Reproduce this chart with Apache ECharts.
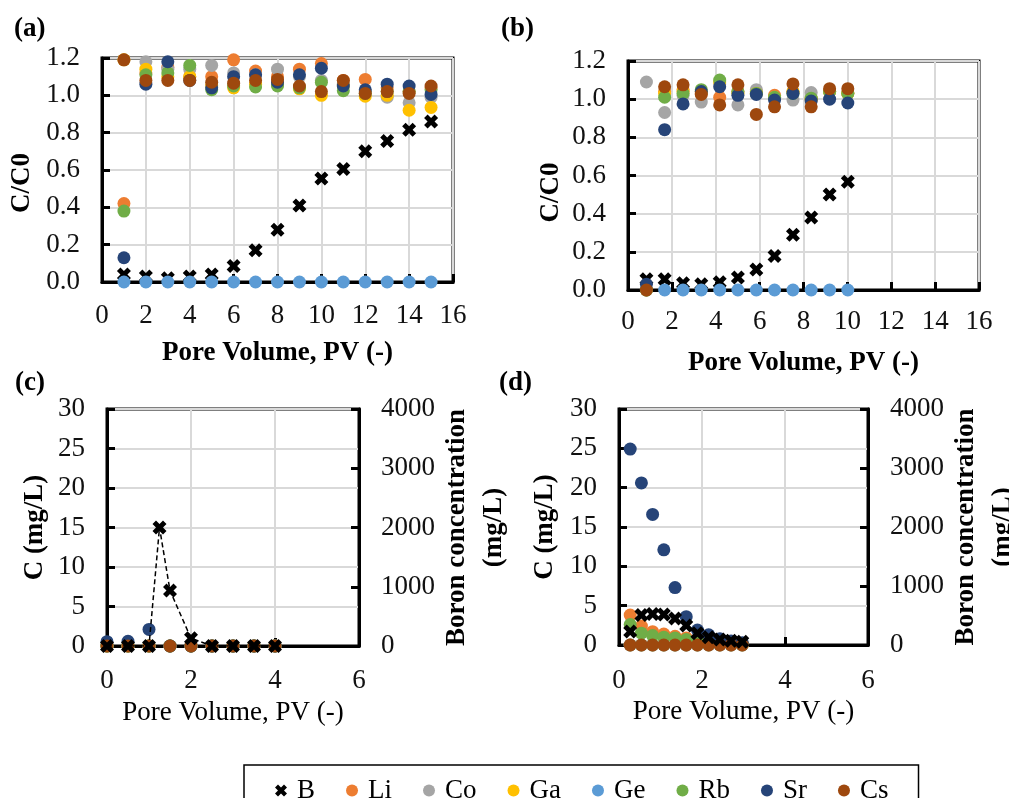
<!DOCTYPE html>
<html>
<head>
<meta charset="utf-8">
<title>C/C0 and concentration vs pore volume</title>
<script src="https://cdn.jsdelivr.net/npm/echarts@6/dist/echarts.min.js"></script>
<style>
  html, body { margin: 0; padding: 0; background: #fff; }
  #main { width: 1009px; height: 798px; }
</style>
</head>
<body>
<div id="main"></div>
<script>
// ---- data ----
// (a)
var pvA = [1, 2, 3, 4, 5, 6, 7, 8, 9, 10, 11, 12, 13, 14, 15];
var bA  = [0.04, 0.03, 0.02, 0.03, 0.04, 0.086, 0.17, 0.28, 0.41, 0.555, 0.605, 0.70, 0.756, 0.815, 0.86];
var liA = [0.42, 1.12, 1.15, 1.10, 1.10, 1.19, 1.13, 1.10, 1.14, 1.17, 1.08, 1.085, 1.04, 1.02, 1.04];
var coA = [1.19, 1.18, 1.14, 1.14, 1.16, 1.12, 1.11, 1.14, 1.10, 1.08, 1.06, 1.02, 0.99, 0.96, 0.99];
var gaA = [1.19, 1.14, 1.10, 1.10, 1.05, 1.04, 1.06, 1.06, 1.035, 1.00, 1.05, 0.995, 1.00, 0.92, 0.935];
var geA = [0, 0, 0, 0, 0, 0, 0, 0, 0, 0, 0, 0, 0, 0, 0];
var rbA = [0.38, 1.11, 1.12, 1.16, 1.03, 1.05, 1.045, 1.05, 1.04, 1.07, 1.025, 1.01, 1.02, 1.02, 1.03];
var srA = [0.13, 1.06, 1.18, 1.08, 1.04, 1.10, 1.11, 1.07, 1.11, 1.145, 1.05, 1.03, 1.06, 1.05, 1.005];
var csA = [1.19, 1.08, 1.08, 1.08, 1.07, 1.065, 1.08, 1.085, 1.05, 1.02, 1.08, 1.01, 1.02, 1.01, 1.05];

// (b)
var pvB = [0.84, 1.67, 2.51, 3.34, 4.18, 5.01, 5.85, 6.68, 7.52, 8.35, 9.19, 10.02];
var bB  = [0.056, 0.056, 0.035, 0.03, 0.04, 0.065, 0.108, 0.178, 0.29, 0.38, 0.50, 0.567];
var liB = [0, 1.04, 1.05, 1.03, 1.01, 1.04, 1.04, 1.02, 1.04, 1.00, 1.04, 1.03];
var coB = [1.09, 0.93, 1.02, 0.985, 1.08, 0.97, 1.05, 1.01, 0.995, 1.035, 1.04, 1.03];
var gaB = [0, 1.03, 1.04, 1.04, 1.09, 1.03, 1.03, 1.01, 1.04, 1.00, 1.04, 1.03];
var geB = [0, 0, 0, 0, 0, 0, 0, 0, 0, 0, 0, 0];
var rbB = [0, 1.01, 1.03, 1.05, 1.10, 1.04, 1.03, 1.01, 1.03, 1.005, 1.04, 1.03];
var srB = [0.03, 0.84, 0.975, 1.04, 1.065, 1.02, 1.025, 0.995, 1.03, 0.99, 1.00, 0.98];
var csB = [0, 1.065, 1.075, 1.025, 0.97, 1.075, 0.92, 0.96, 1.08, 0.96, 1.055, 1.055];

// (c)  metals in mg/L (left axis), boron in mg/L (right axis)
var pvC  = [0, 0.5, 1, 1.5, 2, 2.5, 3, 3.5, 4];
var liC  = [0, 0, 0, 0, 0, 0, 0, 0, 0];
var coC  = [0, 0, 0, 0, 0, 0, 0, 0, 0];
var gaC  = [0, 0, 0, 0, 0, 0, 0, 0, 0];
var geC  = [0, 0, 0, 0, 0, 0, 0, 0, 0];
var rbC  = [0, 0, 0, 0, 0, 0, 0, 0, 0];
var srC  = [0.55, 0.6, 2.1, 0, 0, 0, 0, 0, 0];
var csC  = [0, 0, 0, 0, 0, 0, 0, 0, 0];
var pvBC = [0, 0.5, 1, 1.25, 1.5, 2, 2.5, 3, 3.5, 4];
var bC   = [0, 0, 0, 2000, 935, 130, 0, 0, 0, 0];

// (d)
var pvD = [0.27, 0.54, 0.81, 1.08, 1.35, 1.62, 1.89, 2.16, 2.43, 2.70, 2.97];
var bD  = [230, 510, 525, 515, 450, 330, 200, 130, 95, 70, 55];
var liD = [3.8, 2.4, 1.7, 1.4, 1.1, 0.9, 0.6, 0.4, 0.3, 0.2, 0.1];
var coD = [0, 0, 0, 0, 0, 0, 0, 0, 0, 0, 0];
var gaD = [0, 0, 0, 0, 0, 0, 0, 0, 0, 0, 0];
var geD = [0, 0, 0, 0, 0, 0, 0, 0, 0, 0, 0];
var rbD = [2.6, 1.5, 1.2, 1.0, 0.9, 0.7, 0.5, 0.35, 0.25, 0.15, 0.1];
var srD = [24.9, 20.6, 16.6, 12.1, 7.3, 3.6, 1.9, 1.3, 0.8, 0.5, 0.3];
var csD = [0, 0, 0, 0, 0, 0, 0, 0, 0, 0, 0];

var elements = ['B', 'Li', 'Co', 'Ga', 'Ge', 'Rb', 'Sr', 'Cs'];
var colors = {
  B: '#000000', Li: '#ED7D31', Co: '#A5A5A5', Ga: '#FFC000',
  Ge: '#5B9BD5', Rb: '#70AD47', Sr: '#264478', Cs: '#9E480E'
};

// ---- helpers ----
var FONT = "'Liberation Serif', 'Times New Roman', serif";
// bold "x" marker
var crossPath = 'path://M0,2.5 L2.5,0 L5,2.5 L7.5,0 L10,2.5 L7.5,5 L10,7.5 L7.5,10 L5,7.5 L2.5,10 L0,7.5 L2.5,5 Z';

function pairs(xs, ys) {
  return xs.map(function (x, i) { return [x, ys[i]]; });
}

function dots(name, xi, yi, xs, ys) {
  return {
    name: name, type: 'scatter', xAxisIndex: xi, yAxisIndex: yi,
    data: pairs(xs, ys),
    symbol: 'circle', symbolSize: 13,
    itemStyle: { color: colors[name], opacity: 1 }
  };
}

function crosses(name, xi, yi, xs, ys) {
  return {
    name: name, type: 'scatter', xAxisIndex: xi, yAxisIndex: yi,
    data: pairs(xs, ys),
    symbol: crossPath, symbolSize: 14,
    itemStyle: { color: '#000', opacity: 1 }
  };
}

var axisLine = { lineStyle: { color: '#000', width: 3 } };
var axisTick = { inside: true, length: 8, lineStyle: { color: '#000', width: 3 } };
var splitLine = { lineStyle: { color: '#D9D9D9', width: 2 } };

function xAxis(gi, max, bold, gap, margin) {
  return {
    gridIndex: gi, type: 'value', min: 0, max: max, interval: 2,
    name: 'Pore Volume, PV (-)', nameLocation: 'middle', nameGap: gap,
    nameTextStyle: { fontFamily: FONT, fontSize: 27, color: '#000', fontWeight: bold ? 'bold' : 'normal' },
    axisLine: axisLine, axisTick: axisTick, splitLine: splitLine,
    axisLabel: { fontFamily: FONT, fontSize: 27, color: '#111', margin: margin }
  };
}

function yAxis(gi, max, interval, name, gap, pad, fmt) {
  return {
    gridIndex: gi, type: 'value', min: 0, max: max, interval: interval,
    name: name, nameLocation: 'middle', nameGap: gap,
    nameTextStyle: { fontFamily: FONT, fontSize: 27, color: '#000', fontWeight: 'bold', padding: pad },
    axisLine: axisLine, axisTick: axisTick, splitLine: splitLine,
    axisLabel: { fontFamily: FONT, fontSize: 27, color: '#111', margin: 22, formatter: fmt }
  };
}

function boronAxis(gi) {
  return {
    gridIndex: gi, type: 'value', position: 'right', min: 0, max: 4000, interval: 1000,
    name: 'Boron concentration\n(mg/L)', nameLocation: 'middle', nameGap: 70,
    nameTextStyle: { fontFamily: FONT, fontSize: 27, color: '#000', fontWeight: 'bold', lineHeight: 37 },
    axisLine: axisLine, axisTick: axisTick, splitLine: { show: false },
    axisLabel: { fontFamily: FONT, fontSize: 27, color: '#111', margin: 22, formatter: plain }
  };
}

function oneDecimal(v) { return v.toFixed(1); }
function plain(v) { return String(v); }

function gridBox(left, top, width, height) {
  return {
    left: left, top: top, width: width, height: height,
    show: true, borderColor: '#000', borderWidth: 3,
    outerBoundsMode: 'none'
  };
}

function panelLabel(text, left, top) {
  return {
    type: 'text', left: left, top: top,
    style: { text: text, fontFamily: FONT, fontSize: 27, fontWeight: 'bold', fill: '#000' }
  };
}

// ---- series ----
var series = [];
var sets = [
  { xi: 0, yi: 0, pv: pvA, v: { B: bA, Li: liA, Co: coA, Ga: gaA, Ge: geA, Rb: rbA, Sr: srA, Cs: csA } },
  { xi: 1, yi: 1, pv: pvB, v: { B: bB, Li: liB, Co: coB, Ga: gaB, Ge: geB, Rb: rbB, Sr: srB, Cs: csB } }
];
sets.forEach(function (s) {
  series.push(crosses('B', s.xi, s.yi, s.pv, s.v.B));
  elements.slice(1).forEach(function (el) {
    series.push(dots(el, s.xi, s.yi, s.pv, s.v[el]));
  });
});

var metalsC = { Li: liC, Co: coC, Ga: gaC, Ge: geC, Rb: rbC, Sr: srC, Cs: csC };
var metalsD = { Li: liD, Co: coD, Ga: gaD, Ge: geD, Rb: rbD, Sr: srD, Cs: csD };
elements.slice(1).forEach(function (el) {
  series.push(dots(el, 2, 2, pvC, metalsC[el]));
  series.push(dots(el, 3, 4, pvD, metalsD[el]));
});

// boron sits on the secondary axis and is drawn over the metals
series.push({
  name: 'B', type: 'line', xAxisIndex: 2, yAxisIndex: 3, z: 5,
  data: pairs(pvBC, bC),
  symbol: crossPath, symbolSize: 14, showSymbol: true,
  itemStyle: { color: '#000', opacity: 1 },
  lineStyle: { color: '#000', width: 1.5, type: [5, 3] }
});
var bDSeries = crosses('B', 3, 5, pvD, bD);
bDSeries.z = 5;
series.push(bDSeries);

// ---- chart ----
var chart = echarts.init(document.getElementById('main'), null, { renderer: 'canvas' });
chart.setOption({
  animation: false,
  backgroundColor: '#fff',
  grid: [
    gridBox(102, 58, 351, 224),
    gridBox(628, 61, 351, 229),
    gridBox(107, 409, 252, 237),
    gridBox(619, 409, 249, 236)
  ],
  xAxis: [
    xAxis(0, 16, true, 58, 20),
    xAxis(1, 16, true, 60, 18),
    xAxis(2, 6, false, 53, 21),
    xAxis(3, 6, false, 53, 22)
  ],
  yAxis: [
    yAxis(0, 1.2, 0.2, 'C/C0', 66, [0, 26, 0, 0], oneDecimal),
    yAxis(1, 1.2, 0.2, 'C/C0', 63, [0, 34, 0, 0], oneDecimal),
    yAxis(2, 30, 5, 'C (mg/L)', 58, 0),
    boronAxis(2),
    yAxis(3, 30, 5, 'C (mg/L)', 60, 0),
    boronAxis(3)
  ],
  legend: {
    left: 244, top: 765,
    orient: 'horizontal',
    borderColor: '#000', borderWidth: 1.5,
    padding: [12, 30, 12, 31],
    itemGap: 31, itemWidth: 12, itemHeight: 12,
    textStyle: { fontFamily: FONT, fontSize: 27, color: '#000', padding: [0, 0, 0, 5] },
    data: elements.map(function (el) {
      return { name: el, icon: el === 'B' ? crossPath : 'circle', itemStyle: { color: colors[el] } };
    })
  },
  graphic: [
    panelLabel('(a)', 14, 16),
    panelLabel('(b)', 501, 16),
    panelLabel('(c)', 15, 370),
    panelLabel('(d)', 499, 370)
  ],
  series: series
});
</script>
</body>
</html>
